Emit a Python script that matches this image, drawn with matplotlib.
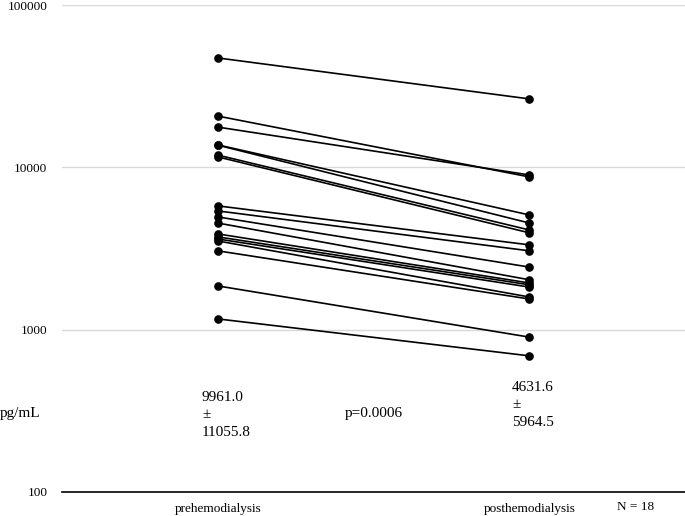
import matplotlib
matplotlib.use("Agg")
import matplotlib.pyplot as plt
from matplotlib.ticker import FixedLocator, FixedFormatter, NullLocator

plt.rcParams['font.family'] = ['Liberation Serif', 'DejaVu Serif']

# readings per patient, pg/mL
groups = ["prehemodialysis", "posthemodialysis"]
pre = [47200, 20700, 17700, 13750, 13700, 11900, 11600, 5790, 5390,
       4950, 4540, 3890, 3730, 3620, 3520, 3060, 1860, 1165]
post = [26400, 8730, 8980, 5090, 4540, 4115, 3950, 3330, 3060,
        2430, 2030, 1940, 1890, 1830, 1590, 1545, 900, 690]

yticks = [100, 1000, 10000, 100000]
ytick_labels = ["100", "1000", "10000", "100000"]

pre_stats = "9961.0\n±\n11055.8"
post_stats = "4631.6\n±\n5964.5"
p_text = "p=0.0006"
n_text = "N = 18"
unit = "pg/mL"

W, H = 685, 516
fig = plt.figure(figsize=(W / 100, H / 100), dpi=100)
ax = fig.add_axes([62 / W, 1 - 492 / H, (685 - 62) / W, (492 - 5) / H])

for a, b in zip(pre, post):
    ax.plot([0, 1], [a, b], color='black', lw=1.2, marker='o', ms=5.2,
            solid_capstyle='butt', zorder=3, clip_on=False)

ax.set_yscale('log')
ax.set_ylim(100, 100000)
ax.set_xlim(-0.5, 1.5)
ax.yaxis.set_major_locator(FixedLocator(yticks))
ax.yaxis.set_major_formatter(FixedFormatter(ytick_labels))
ax.yaxis.set_minor_locator(NullLocator())
ax.grid(axis='y', color='#d9d9d9', lw=1)
ax.set_axisbelow(True)
for s in ['top', 'right', 'left']:
    ax.spines[s].set_visible(False)
ax.spines['bottom'].set_color('black')
ax.spines['bottom'].set_linewidth(1.2)
ax.tick_params(axis='y', length=0, pad=10.5, labelsize=9.5)
ax.set_xticks([0, 1])
ax.set_xticklabels(groups, fontsize=9.5)
ax.tick_params(axis='x', length=0, pad=8)

fs = 11
fig.text(202 / W, 1 - 415 / H, pre_stats, fontsize=fs, va='center', ha='left', linespacing=1.45)
fig.text(512 / W, 1 - 405 / H, post_stats, fontsize=fs, va='center', ha='left', linespacing=1.45)
fig.text(345 / W, 1 - 414 / H, p_text, fontsize=fs, va='center', ha='left')
fig.text(0, 1 - 413 / H, unit, fontsize=11, va='center', ha='left')
fig.text(617 / W, 1 - 507 / H, n_text, fontsize=9.5, va='center', ha='left')

fig.savefig("out.png", dpi=100)
